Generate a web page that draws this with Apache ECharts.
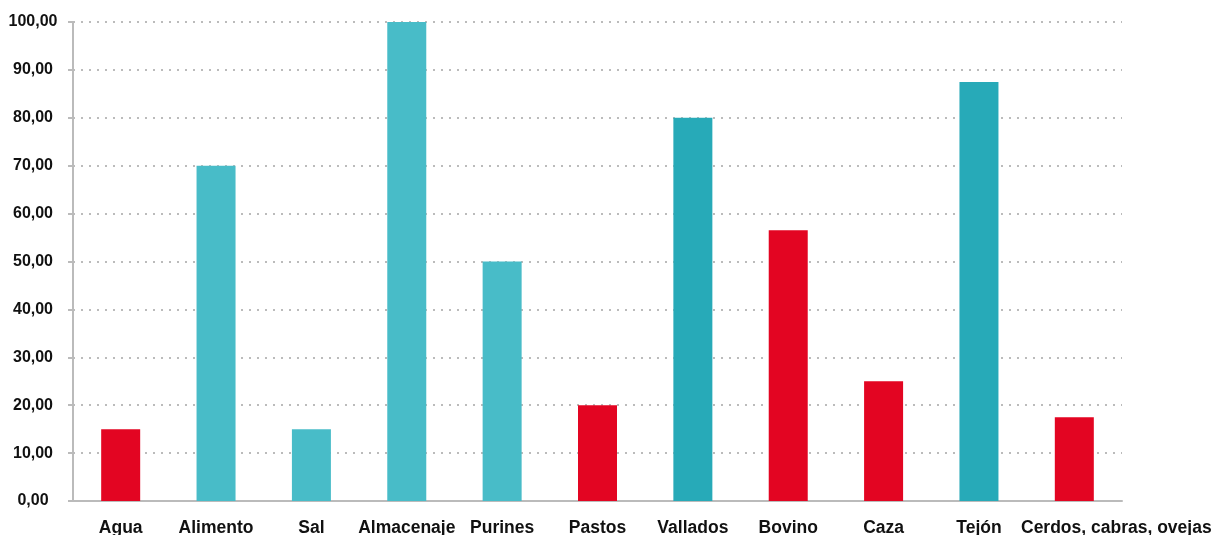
<!DOCTYPE html>
<html><head><meta charset="utf-8">
<script src="https://cdn.jsdelivr.net/npm/echarts@6/dist/echarts.min.js"></script>
<style>html,body{margin:0;padding:0;background:#fff}#c{width:1215px;height:535px}</style>
</head><body><div id="c"></div>
<script>
const categories = ['Agua','Alimento','Sal','Almacenaje','Purines','Pastos','Vallados','Bovino','Caza','Tejón','Cerdos, cabras, ovejas'];
const values = [15, 70, 15, 100, 50, 20, 80, 56.5, 25, 87.5, 17.5];
const colorGroups = ['red','light','light','light','light','red','dark','red','red','dark','red'];
const palette = {red:'#E30522', light:'#48BCC8', dark:'#27AAB8'};

const lastIdx = categories.length - 1;
const chart = echarts.init(document.getElementById('c'));
chart.setOption({
  animation:false,
  grid:{left:73,right:93,top:22,bottom:34,containLabel:false,outerBoundsMode:'none'},
  xAxis:{
    type:'category',
    data:categories.map((c,i)=> i===lastIdx ? {value:c,textStyle:{padding:[0,0,0,84]}} : c),
    axisLine:{lineStyle:{color:'#BBBBBB',width:2}},
    axisTick:{show:false},
    axisLabel:{color:'#111',fontSize:17.5,fontWeight:'bold',fontFamily:'Liberation Sans, Arial, sans-serif',margin:18,interval:0}
  },
  yAxis:{
    type:'value', min:0, max:100, interval:10,
    axisLine:{show:true,lineStyle:{color:'#BBBBBB',width:2}},
    axisTick:{show:true,length:5,lineStyle:{color:'#BBBBBB',width:2}},
    axisLabel:{color:'#111',fontSize:16,fontWeight:'bold',fontFamily:'Liberation Sans, Arial, sans-serif',margin:40,align:'center',
      formatter:v=>v.toFixed(2).replace('.',',')},
    splitLine:{show:true,lineStyle:{color:'#BBBBBB',width:2,type:[2,6]}}
  },
  series:[{
    type:'bar', barWidth:39,
    data:values.map((v,i)=>({value:v,itemStyle:{color:palette[colorGroups[i]]}}))
  }]
});
</script></body></html>
